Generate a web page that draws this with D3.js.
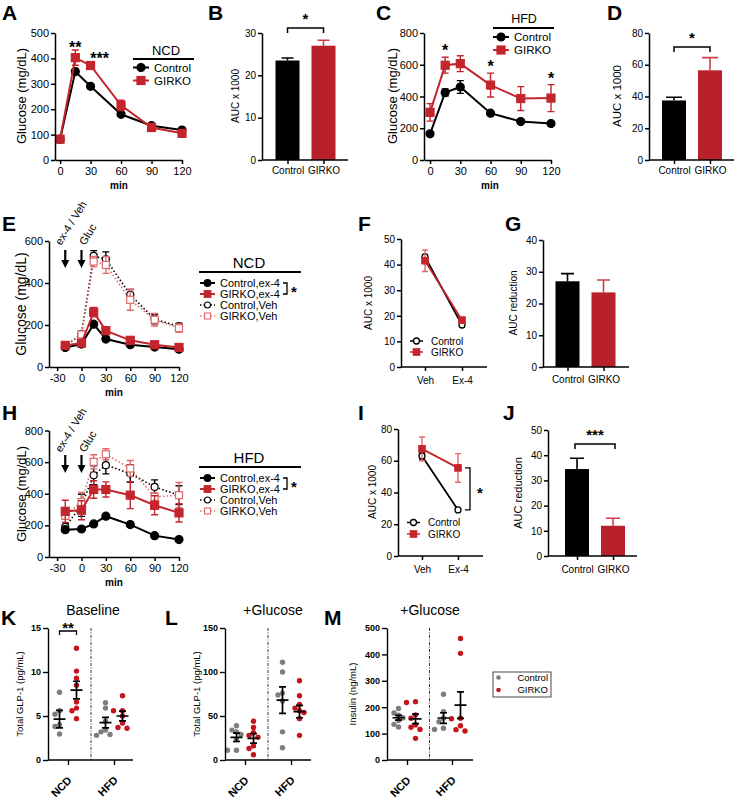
<!DOCTYPE html>
<html><head><meta charset="utf-8">
<script src="https://cdn.jsdelivr.net/npm/d3@7"></script>
<style>body{margin:0;background:#fff}</style>
</head><body><svg id="c" width="735" height="800"></svg>
<script>
// ---------------- DATA ----------------
const timeNCD = [0,15,30,60,90,120];
const ncdControl = [82,348,290,180,135,118];
const ncdControlErr = [6,10,8,6,6,6];
const ncdGirko = [82,403,372,215,128,105];
const ncdGirkoErr = [6,30,15,20,8,8];
const hfdControl = [165,425,460,295,242,230];
const hfdControlErr = [8,22,40,10,10,8];
const hfdGirko = [300,597,607,472,387,390];
const hfdGirkoErr = [55,50,50,75,75,85];

const groups = ["Control","GIRKO"];
const aucNCD = [23.5,27.0], aucNCDErr = [0.6,1.3];
const aucHFD = [37.5,56.5], aucHFDErr = [2,8];

const timeEx = [-20,0,15,30,60,90,120];
const eCtrlEx4 = [93,109,204,133,106,95,85],   eCtrlEx4Err = [0,0,8,6,4,4,4];
const eGirkoEx4 = [103,114,261,173,127,106,93], eGirkoEx4Err = [5,5,22,8,8,6,5];
const eCtrlVeh = [98,158,529,513,344,228,193],  eCtrlVehErr = [4,8,25,35,25,22,15];
const eGirkoVeh = [100,155,502,486,320,225,185], eGirkoVehErr = [4,8,25,40,50,30,20];

const hCtrlEx4 = [173,177,209,258,205,135,110], hCtrlEx4Err = [8,8,10,10,10,8,6];
const hGirkoEx4 = [289,296,427,427,391,327,279], hGirkoEx4Err = [70,60,55,48,85,60,58];
const hCtrlVeh = [190,327,517,581,528,443,391], hCtrlVehErr = [10,70,60,55,55,45,60];
const hGirkoVeh = [260,348,602,650,560,380,391], hGirkoVehErr = [20,60,45,35,50,25,80];

const treatments = ["Veh","Ex-4"];
const fCtrl = [43,16.4], fCtrlErr = [1,0.8];
const fGirko = [41.5,18.3], fGirkoErr = [4.2,1.2];
const iCtrl = [63,29], iCtrlErr = [2,0.8];
const iGirko = [67.5,55.5], iGirkoErr = [7.5,9];

const gReduction = [27,23.5], gReductionErr = [2.4,3.9];
const jReduction = [34.5,12], jReductionErr = [4.3,3];

const diets = ["NCD","HFD"];
const kCtrlNCD = [7.7,5.6,5.2,4.0,3.8,2.95];
const kGirkoNCD = [12.7,10.1,9.3,8.5,6.6,5.9,5.6,4.7];
const kCtrlHFD = [6.5,5.9,4.4,3.4,3.2,2.9,2.8];
const kGirkoHFD = [7.3,5.6,5.6,5.0,4.2,3.7,3.6];
const kMean = [4.65,7.95,4.24,5.0], kSem = [1.0,1.0,0.6,0.55];

const lCtrlNCD = [39,34,32,29,23,11,11];
const lGirkoNCD = [44,37,31,28,26,16,13,6];
const lCtrlHFD = [111,100,76,74,67,32,14];
const lGirkoHFD = [90,73,63,59,56,54,47,28];
const lMean = [25.8,24.6,68,55], lSem = [4.8,5.5,15,7];

const mCtrlNCD = [195,178,170,160,150,135,125];
const mGirkoNCD = [221,218,171,158,133,124,116,82];
const mCtrlHFD = [249,183,158,145,120,116];
const mGirkoHFD = [460,404,158,156,130,115,110];
const mMean = [160,156,159,208], mSem = [9,18,20,50];

const yTicksA = [0,100,200,300,400,500];
const yTicksC = [0,200,400,600,800];
const xTicksMin = [0,30,60,90,120];
const xTicksEx = [-30,0,30,60,90,120];

// ---------------- HELPERS ----------------
const FONT = "'Liberation Sans', Arial, Helvetica, sans-serif";
const RED = "#c4252d", RED_BAR = "#b8202a", RED_ERR = "#d0404a", RED_LIGHT = "#e06a6a";
const GRAY = "#7d7d7d", DOT_RED = "#c4141c";
const svg = d3.select("#c");
svg.append("rect").attr("width",735).attr("height",800).attr("fill","#fff");
const fmt = d => String(d);

function txt(x,y,s,o={}){
  const t = svg.append("text").attr("x",x).attr("y",y).text(s)
    .attr("font-family",FONT).attr("font-size",o.size||11)
    .attr("font-weight",o.bold?"bold":"normal")
    .attr("text-anchor",o.anchor||"start").attr("fill",o.fill||"#000");
  if(o.rotate!=null) t.attr("transform",`rotate(${o.rotate},${x},${y})`);
  if(o.dy) t.attr("dy",o.dy);
  return t;
}
function yLabel(x,cy,s,size){ txt(x,cy,s,{size,anchor:"middle",rotate:-90,dy:"0.35em"}); }
function letter(x,y,s){ txt(x,y,s,{size:21,bold:true}); }
function styleAxis(g,o){
  g.select(".domain").attr("stroke","#000").attr("stroke-width",o.sw||1.5);
  g.selectAll(".tick line").attr("stroke","#000").attr("stroke-width",o.sw||1.5);
  g.selectAll(".tick text").attr("font-family",FONT).attr("font-size",o.size||11)
    .attr("font-weight",o.bold?"bold":"normal").attr("fill","#000");
}
function yAxis(xPos,scale,ticks,o={}){
  const g = svg.append("g").attr("transform",`translate(${xPos},0)`)
    .call(d3.axisLeft(scale).tickValues(ticks).tickFormat(fmt).tickSize(o.tick||4).tickSizeOuter(0).tickPadding(o.pad||2));
  styleAxis(g,o); return g;
}
function xAxis(yPos,scale,ticks,o={}){
  const a = d3.axisBottom(scale).tickSize(o.tick||4).tickSizeOuter(0).tickPadding(o.pad||3).tickFormat(fmt);
  if(ticks) a.tickValues(ticks);
  const g = svg.append("g").attr("transform",`translate(0,${yPos})`).call(a);
  if(o.x0!=null) g.select(".domain").attr("d",`M${o.x0},0H${o.x1}`);
  styleAxis(g,o); return g;
}
function drawMarker(cx,cy,mk){
  if(mk.shape==="circle"){
    svg.append("circle").attr("cx",cx).attr("cy",cy).attr("r",mk.r)
      .attr("fill",mk.fill).attr("stroke",mk.stroke||mk.color).attr("stroke-width",mk.sw||1.2);
  } else {
    svg.append("rect").attr("x",cx-mk.r).attr("y",cy-mk.r).attr("width",2*mk.r).attr("height",2*mk.r)
      .attr("fill",mk.fill).attr("stroke",mk.stroke||mk.color).attr("stroke-width",mk.sw||1.2);
  }
}
function series(xs,vals,errs,xsc,ysc,o){
  const pts = xs.map((t,i)=>({t,v:vals[i],e:errs?errs[i]:0}));
  svg.append("path").datum(pts).attr("fill","none").attr("stroke",o.color)
    .attr("stroke-width",o.lw||2).attr("stroke-dasharray",o.dash||null)
    .attr("d",d3.line().x(d=>xsc(d.t)).y(d=>ysc(d.v)));
  const ec = o.errColor||o.color, w = o.cap||3.5;
  pts.forEach(d=>{
    if(!d.e) return;
    const cx=xsc(d.t), t=ysc(d.v+d.e), b=ysc(d.v-d.e);
    svg.append("path").attr("d",`M${cx},${t}V${b}M${cx-w},${t}H${cx+w}M${cx-w},${b}H${cx+w}`)
      .attr("stroke",ec).attr("stroke-width",o.ew||1.4).attr("fill","none");
  });
  pts.forEach(d=>drawMarker(xsc(d.t),ysc(d.v),o.mk));
}
function legendRow(x0,x1,y,label,o,tx,size){
  svg.append("line").attr("x1",x0).attr("x2",x1).attr("y1",y).attr("y2",y)
    .attr("stroke",o.color).attr("stroke-width",o.lw||2).attr("stroke-dasharray",o.dash||null);
  drawMarker((x0+x1)/2,y,o.mk);
  txt(tx,y,label,{size,dy:"0.35em"});
}
function bars(xsc,ysc,cats,vals,errs,bw,fills,errCols,cap){
  cats.forEach((c,i)=>{
    const cx=xsc(c), top=ysc(vals[i]), base=ysc(0), et=ysc(vals[i]+errs[i]);
    svg.append("rect").attr("x",cx-bw/2).attr("y",top).attr("width",bw).attr("height",base-top).attr("fill",fills[i]);
    svg.append("path").attr("d",`M${cx},${top}V${et}M${cx-cap},${et}H${cx+cap}`)
      .attr("stroke",errCols[i]).attr("stroke-width",1.6).attr("fill","none");
  });
}
function sigBracket(x0,x1,yTop,h,star,starY,size){
  svg.append("path").attr("d",`M${x0},${yTop+h}V${yTop}H${x1}V${yTop+h}`)
    .attr("stroke","#000").attr("stroke-width",1.5).attr("fill","none");
  txt((x0+x1)/2,starY,star,{size:size||15,anchor:"middle",bold:true});
}
function arrow(x,y0,y1){
  svg.append("line").attr("x1",x).attr("x2",x).attr("y1",y0).attr("y2",y1-6).attr("stroke","#000").attr("stroke-width",2.2);
  svg.append("path").attr("d",`M${x-4},${y1-8}L${x+4},${y1-8}L${x},${y1}Z`).attr("fill","#000");
}

// marker definitions
const mkCtrl = {shape:"circle",r:4,fill:"#000",color:"#000"};
const mkGirko = {shape:"square",r:4,fill:RED,color:RED};
const mkCtrlOpen = {shape:"circle",r:3.5,fill:"#fff",color:"#000",sw:1.2};
const mkGirkoOpen = {shape:"square",r:3.5,fill:"#fff",color:RED_LIGHT,sw:1.2};
const mkCtrlS = {shape:"circle",r:3.3,fill:"#000",color:"#000"};
const mkGirkoS = {shape:"square",r:3.3,fill:RED,color:RED};
const mkCtrlOpenS = {shape:"circle",r:3,fill:"#fff",color:"#000",sw:1.1};
const mkGirkoOpenS = {shape:"square",r:3,fill:"#fff",color:RED_LIGHT,sw:1.1};

// ---------------- PANEL A ----------------
{
  const x = d3.scaleLinear([-5,120],[55,182]);
  const y = d3.scaleLinear([0,500],[160,33]);
  series(timeNCD,ncdControl,ncdControlErr,x,y,{color:"#000",lw:2,mk:mkCtrl});
  series(timeNCD,ncdGirko,ncdGirkoErr,x,y,{color:RED,lw:2,mk:mkGirko});
  yAxis(55,y,yTicksA,{size:11});
  xAxis(160,x,xTicksMin,{size:11});
  yLabel(21,96,"Glucose (mg/dL)",13);
  txt(119,189,"min",{size:10,bold:true,anchor:"middle"});
  letter(2,20,"A");
  txt(x(15),y(ncdGirko[1]+ncdGirkoErr[1])+3,"**",{size:16,bold:true,anchor:"middle"});
  txt(x(30)+9,y(ncdGirko[2]+ncdGirkoErr[2])+2,"***",{size:16,bold:true,anchor:"middle"});
  txt(166,55,"NCD",{size:13,anchor:"middle"});
  svg.append("line").attr("x1",133).attr("x2",194).attr("y1",59).attr("y2",59).attr("stroke","#000").attr("stroke-width",1.8);
  legendRow(133,149,67.5,"Control",{color:"#000",mk:mkCtrl},154,11.5);
  legendRow(133,149,80.5,"GIRKO",{color:RED,mk:mkGirko},154,11.5);
}
// ---------------- PANEL B ----------------
{
  const x = d3.scalePoint(groups,[287.5,323.5]);
  const y = d3.scaleLinear([0,30],[160,33]);
  bars(x,y,groups,aucNCD,aucNCDErr,24,["#000",RED_BAR],["#000",RED_ERR],6);
  yAxis(262,y,[0,10,20,30],{size:10});
  xAxis(160,x,null,{size:10,x0:262,x1:348});
  yLabel(235,96,"AUC x 1000",10);
  letter(208,20,"B");
  sigBracket(x("Control"),x("GIRKO"),28,5,"*",24);
}
// ---------------- PANEL C ----------------
{
  const x = d3.scaleLinear([-6,120],[424,551]);
  const y = d3.scaleLinear([0,800],[160,33]);
  series(timeNCD,hfdControl,hfdControlErr,x,y,{color:"#000",lw:2,mk:mkCtrl});
  series(timeNCD,hfdGirko,hfdGirkoErr,x,y,{color:RED,lw:2,mk:mkGirko});
  yAxis(424,y,yTicksC,{size:11});
  xAxis(160,x,xTicksMin,{size:11});
  yLabel(392,96,"Glucose (mg/dL)",13);
  txt(490,189,"min",{size:10,bold:true,anchor:"middle"});
  letter(376,20,"C");
  [1,3,5].forEach(i=>txt(x(timeNCD[i]),y(hfdGirko[i]+hfdGirkoErr[i])-1,"*",{size:16,bold:true,anchor:"middle"}));
  txt(524,23,"HFD",{size:12.5,anchor:"middle"});
  svg.append("line").attr("x1",493).attr("x2",554).attr("y1",28).attr("y2",28).attr("stroke","#000").attr("stroke-width",1.8);
  legendRow(493,509,37,"Control",{color:"#000",mk:mkCtrl},514,11.5);
  legendRow(493,509,50,"GIRKO",{color:RED,mk:mkGirko},514,11.5);
}
// ---------------- PANEL D ----------------
{
  const x = d3.scalePoint(groups,[674,710]);
  const y = d3.scaleLinear([0,80],[160,33]);
  bars(x,y,groups,aucHFD,aucHFDErr,24,["#000",RED_BAR],["#000",RED_ERR],8);
  yAxis(649,y,[0,20,40,60,80],{size:10});
  xAxis(160,x,null,{size:10,x0:649,x1:734});
  yLabel(617,96,"AUC x 1000",11.5);
  letter(607,20,"D");
  sigBracket(x("Control"),x("GIRKO"),47,5,"*",43);
}
// ---------------- PANEL E ----------------
{
  const x = d3.scaleLinear([-40,120],[49,179]);
  const y = d3.scaleLinear([0,600],[367,241]);
  const dash = "1.5,2.2";
  series(timeEx,eCtrlVeh,eCtrlVehErr,x,y,{color:"#000",lw:1.6,dash,mk:mkCtrlOpen,cap:3.5});
  series(timeEx,eGirkoVeh,eGirkoVehErr,x,y,{color:RED_LIGHT,lw:1.6,dash,mk:mkGirkoOpen,errColor:RED_LIGHT,cap:3.5});
  series(timeEx,eCtrlEx4,eCtrlEx4Err,x,y,{color:"#000",lw:2,mk:mkCtrl});
  series(timeEx,eGirkoEx4,eGirkoEx4Err,x,y,{color:RED,lw:2,mk:mkGirko});
  yAxis(49,y,[0,200,400,600],{size:11});
  xAxis(367,x,xTicksEx,{size:11});
  yLabel(21,304,"Glucose (mg/dL)",14);
  txt(114,396,"min",{size:10,bold:true,anchor:"middle"});
  letter(2,231,"E");
  arrow(x(-20),250,268); arrow(x(0),250,268);
  txt(61,246,"ex-4 / Veh",{size:11,rotate:-58});
  txt(85,246,"Gluc",{size:11,rotate:-58});
  txt(249,268,"NCD",{size:15,anchor:"middle"});
  svg.append("line").attr("x1",199).attr("x2",301).attr("y1",272).attr("y2",272).attr("stroke","#000").attr("stroke-width",1.8);
  legendRow(200,215,283,"Control,ex-4",{color:"#000",mk:mkCtrlS},220,11);
  legendRow(200,215,294,"GIRKO,ex-4",{color:RED,mk:mkGirkoS},220,11);
  legendRow(200,215,305,"Control,Veh",{color:"#000",lw:1.4,dash:"1.5,2",mk:mkCtrlOpenS},220,11);
  legendRow(200,215,316,"GIRKO,Veh",{color:RED_LIGHT,lw:1.4,dash:"1.5,2",mk:mkGirkoOpenS},220,11);
  svg.append("path").attr("d","M283,283H287V294H283").attr("stroke","#000").attr("stroke-width",1.3).attr("fill","none");
  txt(294,297,"*",{size:15,bold:true,anchor:"middle"});
}
// ---------------- PANEL F ----------------
{
  const x = d3.scalePoint(treatments,[425,462]);
  const y = d3.scaleLinear([0,50],[367,239]);
  const mkO = {shape:"circle",r:3,fill:"#fff",color:"#000",sw:1.3};
  const mkS = {shape:"square",r:3.2,fill:RED,color:RED};
  series(treatments,fCtrl,fCtrlErr,x,y,{color:"#000",lw:1.8,mk:mkO,cap:3});
  series(treatments,fGirko,fGirkoErr,x,y,{color:RED,lw:1.8,mk:mkS,errColor:RED_LIGHT,cap:3});
  yAxis(401,y,[0,10,20,30,40,50],{size:10});
  xAxis(367,x,null,{size:10,pad:6,x0:401,x1:487});
  yLabel(368,303,"AUC x 1000",10);
  letter(358,231,"F");
  legendRow(410,423,341,"Control",{color:"#000",lw:1.5,mk:mkO},431,10);
  legendRow(410,423,352,"GIRKO",{color:RED,lw:1.5,mk:mkS},431,10);
}
// ---------------- PANEL G ----------------
{
  const x = d3.scalePoint(groups,[567.5,603.5]);
  const y = d3.scaleLinear([0,40],[367,240]);
  bars(x,y,groups,gReduction,gReductionErr,24,["#000",RED_BAR],["#000",RED_ERR],6.5);
  yAxis(543,y,[0,10,20,30,40],{size:10});
  xAxis(367,x,null,{size:10,pad:5,x0:543,x1:629});
  yLabel(513,303,"AUC reduction",10);
  letter(505,231,"G");
}
// ---------------- PANEL H ----------------
{
  const x = d3.scaleLinear([-40,120],[49,179]);
  const y = d3.scaleLinear([0,800],[557,430.5]);
  const dash = "1.5,2.2";
  series(timeEx,hCtrlVeh,hCtrlVehErr,x,y,{color:"#000",lw:1.6,dash,mk:mkCtrlOpen,cap:3.5});
  series(timeEx,hGirkoVeh,hGirkoVehErr,x,y,{color:RED_LIGHT,lw:1.6,dash,mk:mkGirkoOpen,errColor:RED_LIGHT,cap:3.5});
  series(timeEx,hCtrlEx4,hCtrlEx4Err,x,y,{color:"#000",lw:2,mk:mkCtrl});
  series(timeEx,hGirkoEx4,hGirkoEx4Err,x,y,{color:RED,lw:2,mk:mkGirko});
  yAxis(49,y,[0,200,400,600,800],{size:11});
  xAxis(557,x,xTicksEx,{size:11});
  yLabel(21,494,"Glucose  (mg/dL)",13);
  txt(114,586,"min",{size:10,bold:true,anchor:"middle"});
  letter(2,420,"H");
  arrow(x(-20),455,473); arrow(x(0),455,473);
  txt(61,453,"ex-4 / Veh",{size:11,rotate:-58});
  txt(85,453,"Gluc",{size:11,rotate:-58});
  txt(249,463,"HFD",{size:15,anchor:"middle"});
  svg.append("line").attr("x1",199).attr("x2",301).attr("y1",467).attr("y2",467).attr("stroke","#000").attr("stroke-width",1.8);
  legendRow(200,215,478,"Control,ex-4",{color:"#000",mk:mkCtrlS},220,11);
  legendRow(200,215,489,"GIRKO,ex-4",{color:RED,mk:mkGirkoS},220,11);
  legendRow(200,215,500,"Control,Veh",{color:"#000",lw:1.4,dash:"1.5,2",mk:mkCtrlOpenS},220,11);
  legendRow(200,215,511,"GIRKO,Veh",{color:RED_LIGHT,lw:1.4,dash:"1.5,2",mk:mkGirkoOpenS},220,11);
  svg.append("path").attr("d","M283,478H287V489H283").attr("stroke","#000").attr("stroke-width",1.3).attr("fill","none");
  txt(294,492,"*",{size:15,bold:true,anchor:"middle"});
}
// ---------------- PANEL I ----------------
{
  const x = d3.scalePoint(treatments,[422,458]);
  const y = d3.scaleLinear([0,80],[556,429]);
  const mkO = {shape:"circle",r:3,fill:"#fff",color:"#000",sw:1.3};
  const mkS = {shape:"square",r:3.2,fill:RED,color:RED};
  series(treatments,iCtrl,iCtrlErr,x,y,{color:"#000",lw:1.8,mk:mkO,cap:3});
  series(treatments,iGirko,iGirkoErr,x,y,{color:RED,lw:1.8,mk:mkS,errColor:RED_LIGHT,cap:3});
  yAxis(398,y,[0,20,40,60,80],{size:10});
  xAxis(556,x,null,{size:10,pad:6,x0:398,x1:483});
  yLabel(372,492,"AUC x 1000",10);
  letter(358,420,"I");
  const yt=y(iGirko[1]), yb=y(iCtrl[1]);
  svg.append("path").attr("d",`M465,${yt}H470V${yb}H465`).attr("stroke","#000").attr("stroke-width",1.3).attr("fill","none");
  txt(480,(yt+yb)/2+9,"*",{size:15,bold:true,anchor:"middle"});
  legendRow(407,420,522.5,"Control",{color:"#000",lw:1.5,mk:mkO},428,10);
  legendRow(407,420,534,"GIRKO",{color:RED,lw:1.5,mk:mkS},428,10);
}
// ---------------- PANEL J ----------------
{
  const x = d3.scalePoint(groups,[577,613]);
  const y = d3.scaleLinear([0,50],[556,430]);
  bars(x,y,groups,jReduction,jReductionErr,24,["#000",RED_BAR],["#000",RED_ERR],7);
  yAxis(548,y,[0,10,20,30,40,50],{size:10});
  xAxis(556,x,null,{size:10,pad:6,x0:548,x1:637});
  yLabel(518,493,"AUC reduction",11);
  letter(503,420,"J");
  sigBracket(x("Control")-2,x("GIRKO")+2,444,5,"***",440);
}
// ---------------- PANELS K, L, M ----------------
function dotGroup(cx,ysc,vals,color,r){
  const placed=[];
  const pts = vals.map(v=>({v,y:ysc(v)})).sort((a,b)=>a.y-b.y);
  pts.forEach(d=>{
    for(const o of [0,-4.5,4.5,-9,9]){
      const xx=cx+o;
      if(placed.every(p=>Math.hypot(p.x-xx,p.y-d.y)>=2*r-0.6)){ d.x=xx; break; }
    }
    if(d.x==null) d.x=cx;
    placed.push(d);
  });
  svg.selectAll(null).data(placed).enter().append("circle")
    .attr("cx",d=>d.x).attr("cy",d=>d.y).attr("r",r).attr("fill",color);
}
function meanSem(cx,ysc,m,s){
  const y=ysc(m), t=ysc(m+s), b=ysc(m-s);
  svg.append("path").attr("d",`M${cx-6},${y}H${cx+6}M${cx},${t}V${b}M${cx-3.5},${t}H${cx+3.5}M${cx-3.5},${b}H${cx+3.5}`)
    .attr("stroke","#000").attr("stroke-width",1.7).attr("fill","none");
}
function scatterPanel(axisX,ncdX,hfdX,endX,ymax,ticks,sets,means,sems){
  const x = d3.scalePoint(diets,[ncdX,hfdX]);
  const y = d3.scaleLinear([0,ymax],[760,628]);
  const sep = (ncdX+hfdX)/2;
  svg.append("line").attr("x1",sep).attr("x2",sep).attr("y1",628).attr("y2",760)
    .attr("stroke","#222").attr("stroke-width",0.9).attr("stroke-dasharray","3,1.5,1,1.5");
  const cxs = [x("NCD")-8.5,x("NCD")+8.5,x("HFD")-8.5,x("HFD")+8.5];
  const cols = [GRAY,DOT_RED,GRAY,DOT_RED];
  sets.forEach((s,i)=>dotGroup(cxs[i],y,s,cols[i],2.7));
  means.forEach((m,i)=>meanSem(cxs[i],y,m,sems[i]));
  yAxis(axisX,y,ticks,{size:9,bold:true,tick:5,pad:2,sw:1.4});
  const g = xAxis(760,x,null,{size:11,bold:true,tick:5,x0:axisX,x1:endX,sw:1.4});
  g.selectAll(".tick text").attr("x",0).attr("y",0).attr("dy",0)
    .attr("text-anchor","end").attr("transform","translate(4,21) rotate(-45)");
  return {x,y};
}
{
  const p = scatterPanel(48,68,114,133,15,[0,5,10,15],[kCtrlNCD,kGirkoNCD,kCtrlHFD,kGirkoHFD],kMean,kSem);
  yLabel(20,694,"Total GLP-1 (pg/mL)",9.5);
  letter(1,625,"K");
  txt(93,615,"Baseline",{size:14,anchor:"middle"});
  const a=p.x("NCD")-8.5, b=p.x("NCD")+8.5;
  svg.append("path").attr("d",`M${a},635V631H${b}V635`).attr("stroke","#000").attr("stroke-width",1.3).attr("fill","none");
  txt((a+b)/2,633,"**",{size:15,bold:true,anchor:"middle"});
}
{
  scatterPanel(225,245,291,311,150,[0,50,100,150],[lCtrlNCD,lGirkoNCD,lCtrlHFD,lGirkoHFD],lMean,lSem);
  yLabel(197,694,"Total GLP-1 (pg/mL)",9.5);
  letter(165,625,"L");
  txt(273,615,"+Glucose",{size:14,anchor:"middle"});
}
{
  scatterPanel(387,407,452,473,500,[0,100,200,300,400,500],[mCtrlNCD,mGirkoNCD,mCtrlHFD,mGirkoHFD],mMean,mSem);
  yLabel(353,694,"Insulin (ng/mL)",9.5);
  letter(324,625,"M");
  txt(430,615,"+Glucose",{size:14,anchor:"middle"});
}
// legend for K-M
{
  svg.append("rect").attr("x",493).attr("y",672).attr("width",58).attr("height",25)
    .attr("fill","#fff").attr("stroke","#333").attr("stroke-width",0.9);
  svg.append("circle").attr("cx",498.5).attr("cy",677.5).attr("r",2.3).attr("fill",GRAY);
  svg.append("circle").attr("cx",498.5).attr("cy",690).attr("r",2.3).attr("fill",DOT_RED);
  txt(548,677.5,"Control",{size:9.5,anchor:"end",dy:"0.35em"});
  txt(548,690,"GIRKO",{size:9.5,anchor:"end",dy:"0.35em"});
}
</script></body></html>
